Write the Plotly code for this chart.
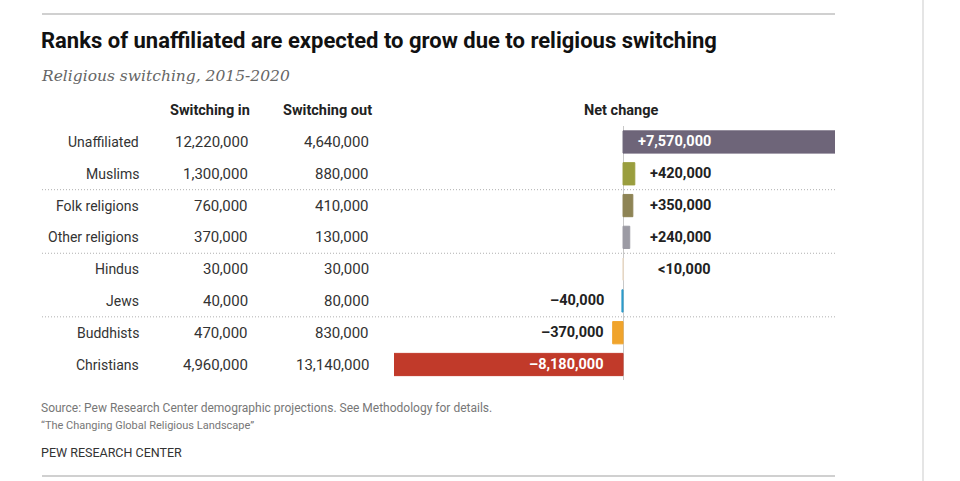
import plotly.graph_objects as go

W, H = 960, 481

groups = ["Unaffiliated", "Muslims", "Folk religions", "Other religions",
          "Hindus", "Jews", "Buddhists", "Christians"]
switch_in = [12220000, 1300000, 760000, 370000, 30000, 40000, 470000, 4960000]
switch_out = [4640000, 880000, 410000, 130000, 30000, 80000, 830000, 13140000]
net_change = [7570000, 420000, 350000, 240000, 5000, -40000, -370000, -8180000]
net_labels = ["+7,570,000", "+420,000", "+350,000", "+240,000", "<10,000",
              "–40,000", "–370,000", "–8,180,000"]
colors = ["#6e6579", "#9a9e3e", "#8e8455", "#9c9ba4", "#e9d9c6",
          "#2e9ccb", "#f0a42c", "#c13a2a"]

FONT = "Roboto"


def px(x):
    return x / W


def py(y):
    return 1 - y / H


fig = go.Figure()
fig.add_trace(go.Bar(
    x=net_change, y=groups, orientation="h", width=0.7,
    marker=dict(color=colors, line=dict(color=colors, width=1)),
    hoverinfo="skip", showlegend=False,
))

ann = []
# title / subtitle
ann.append(dict(text="<b>Ranks of unaffiliated are expected to grow due to religious switching</b>",
                x=px(39), y=py(41), xref="paper", yref="paper", xanchor="left", yanchor="middle",
                showarrow=False, font=dict(family=FONT, size=22, color="#111")))
ann.append(dict(text="<i>Religious switching, 2015-2020</i>",
                x=px(39), y=py(76), xref="paper", yref="paper", xanchor="left", yanchor="middle",
                showarrow=False, font=dict(family="DejaVu Serif", size=15.5, color="#666")))
# headers
for txt, xr in [("Switching in", 252), ("Switching out", 374)]:
    ann.append(dict(text="<b>" + txt + "</b>", x=px(xr), y=py(110), xref="paper", yref="paper",
                    xanchor="right", yanchor="middle", showarrow=False,
                    font=dict(family=FONT, size=14.5, color="#222")))
ann.append(dict(text="<b>Net change</b>", x=px(621), y=py(110), xref="paper", yref="paper",
                xanchor="center", yanchor="middle", showarrow=False,
                font=dict(family=FONT, size=14.5, color="#222")))

# table rows
for g, si, so, v, lab in zip(groups, switch_in, switch_out, net_change, net_labels):
    ann.append(dict(text=g, x=px(141), y=g, xref="paper", yref="y", xanchor="right",
                    yanchor="middle", showarrow=False, font=dict(family=FONT, size=14, color="#333")))
    ann.append(dict(text=f"{si:,}", x=px(250), y=g, xref="paper", yref="y", xanchor="right",
                    yanchor="middle", showarrow=False, font=dict(family=FONT, size=15, color="#333")))
    ann.append(dict(text=f"{so:,}", x=px(371), y=g, xref="paper", yref="y", xanchor="right",
                    yanchor="middle", showarrow=False, font=dict(family=FONT, size=15, color="#333")))
    inside = abs(v) > 2000000
    col = "#ffffff" if inside else "#222"
    xr = 713 if v >= 0 else 606
    ann.append(dict(text="<b>" + lab + "</b>", x=px(xr), y=g, xref="paper", yref="y",
                    xanchor="right", yanchor="middle", showarrow=False,
                    font=dict(family=FONT, size=14.5, color=col)))

# footer
ann.append(dict(text="Source: Pew Research Center demographic projections. See Methodology for details.",
                x=px(39), y=py(408), xref="paper", yref="paper", xanchor="left", yanchor="middle",
                showarrow=False, font=dict(family=FONT, size=12, color="#777")))
ann.append(dict(text="“The Changing Global Religious Landscape”",
                x=px(39), y=py(425), xref="paper", yref="paper", xanchor="left", yanchor="middle",
                showarrow=False, font=dict(family=FONT, size=11, color="#777")))
ann.append(dict(text="PEW RESEARCH CENTER",
                x=px(39), y=py(452), xref="paper", yref="paper", xanchor="left", yanchor="middle",
                showarrow=False, font=dict(family=FONT, size=12.5, color="#333")))

shapes = [
    dict(type="line", xref="paper", yref="paper", x0=px(42), x1=px(835), y0=py(14), y1=py(14),
         line=dict(color="#d0d0d0", width=2)),
    dict(type="line", xref="paper", yref="paper", x0=px(42), x1=px(835), y0=py(476), y1=py(476),
         line=dict(color="#d0d0d0", width=2)),
    dict(type="line", xref="paper", yref="paper", x0=px(923), x1=px(923), y0=0, y1=1,
         line=dict(color="#dcdcdc", width=1.5)),
]
for sep in [1.5, 3.5, 5.5]:
    shapes.append(dict(type="line", xref="paper", yref="y", x0=px(42), x1=px(835), y0=sep, y1=sep,
                       line=dict(color="#b0b0b0", width=1, dash="1px,2px")))

fig.update_layout(
    width=W, height=H, margin=dict(l=0, r=0, t=0, b=0),
    paper_bgcolor="white", plot_bgcolor="white",
    xaxis=dict(domain=[px(394), px(835)], range=[-8180000, 7570000], showgrid=False,
               showticklabels=False, ticks="", zeroline=True, zerolinecolor="#c8c8c8",
               zerolinewidth=1, fixedrange=True),
    yaxis=dict(domain=[py(380.4), py(126.1)], autorange="reversed", showgrid=False,
               showticklabels=False, ticks="", zeroline=False, fixedrange=True),
    annotations=ann, shapes=shapes, bargap=0.3,
)

fig.write_html("out.html")
